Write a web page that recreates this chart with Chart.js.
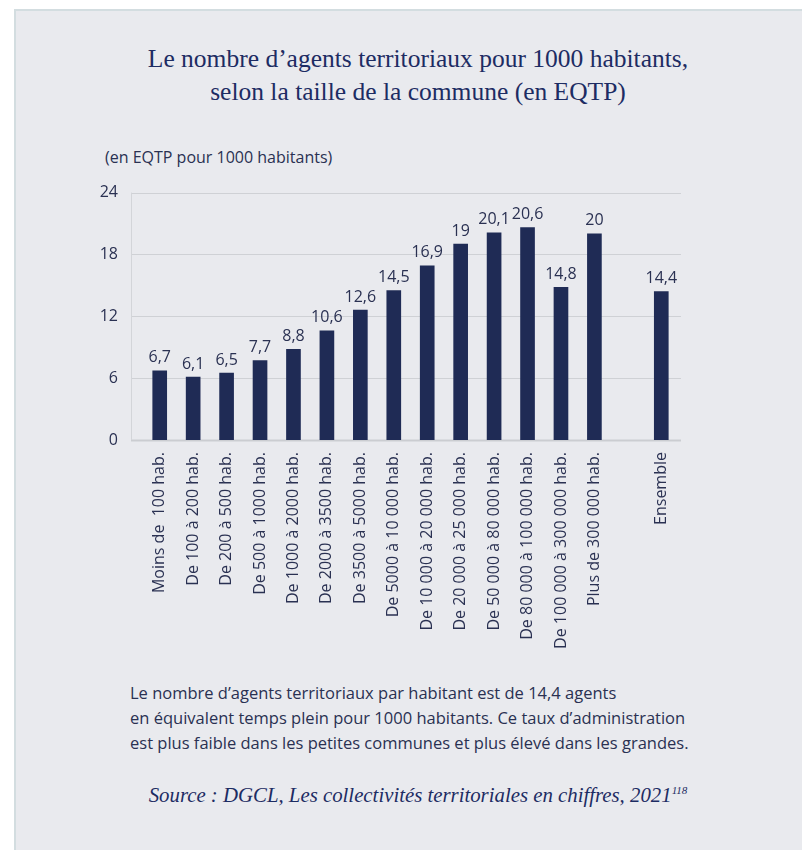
<!DOCTYPE html>
<html>
<head>
<meta charset="utf-8">
<script src="https://cdn.jsdelivr.net/npm/chart.js@4.4.1/dist/chart.umd.min.js"></script>
<style>
  body { margin: 0; background: #ffffff; width: 802px; height: 850px; overflow: hidden; }
  #panel {
    position: absolute; left: 14px; top: 9px; width: 820px; height: 860px;
    background: #e9eaee; border-left: 2px solid #d3dde0; border-top: 2px solid #d3dde0;
  }
  #title {
    position: absolute; left: 68px; top: 42px; width: 700px; text-align: center;
    font-family: "Liberation Serif", serif; font-size: 25.5px; line-height: 33px; color: #1d2c63;
  }
  #unit {
    position: absolute; left: 105px; top: 146px;
    font-family: "Open Sans", sans-serif; font-size: 16px; color: #2a3152;
  }
  #note {
    position: absolute; left: 130px; top: 680px;
    font-family: "Open Sans", sans-serif; font-size: 16.5px; line-height: 25px; color: #2a3152;
  }
  #source {
    position: absolute; left: 68px; top: 783px; width: 700px; text-align: center;
    font-family: "Liberation Serif", serif; font-style: italic; font-size: 20.8px; color: #1d2c63;
  }
  #source sup { font-size: 11px; }
  #wrap { position: absolute; left: 0; top: 158px; width: 802px; height: 512px; }
</style>
</head>
<body>
<div id="panel"></div>
<div id="title">Le nombre d’agents territoriaux pour 1000 habitants,<br>selon la taille de la commune (en EQTP)</div>
<div id="unit">(en EQTP pour 1000 habitants)</div>
<div id="wrap"><canvas id="myChart"></canvas></div>
<div id="note">Le nombre d’agents territoriaux par habitant est de 14,4 agents<br>en équivalent temps plein pour 1000 habitants. Ce taux d’administration<br>est plus faible dans les petites communes et plus élevé dans les grandes.</div>
<div id="source">Source : DGCL, Les collectivités territoriales en chiffres, 2021<sup>118</sup></div>
<script>
const categories = [
  "Moins de  100 hab.",
  "De 100 à 200 hab.",
  "De 200 à 500 hab.",
  "De 500 à 1000 hab.",
  "De 1000 à 2000 hab.",
  "De 2000 à 3500 hab.",
  "De 3500 à 5000 hab.",
  "De 5000 à 10 000 hab.",
  "De 10 000 à 20 000 hab.",
  "De 20 000 à 25 000 hab.",
  "De 50 000 à 80 000 hab.",
  "De 80 000 à 100 000 hab.",
  "De 100 000 à 300 000 hab.",
  "Plus de 300 000 hab.",
  "", // espace vide avant Ensemble
  "Ensemble",
];
const values = [6.7, 6.1, 6.5, 7.7, 8.8, 10.6, 12.6, 14.5, 16.9, 19, 20.1, 20.6, 14.8, 20, null, 14.4];
const yTicks = [0, 6, 12, 18, 24];

const textColor = "#2a3152";
const barColor = "#1f2b55";

// lignes de grille un peu plus larges que la zone des barres
const gridPlugin = {
  id: "gridLines",
  beforeDatasetsDraw(chart) {
    const { ctx, chartArea, scales } = chart;
    const left = chartArea.left - 12;
    const right = chartArea.right + 3;
    ctx.save();
    yTicks.forEach((t) => {
      const y = Math.round(scales.y.getPixelForValue(t)) + 0.5;
      ctx.beginPath();
      ctx.strokeStyle = t === 0 ? "#cbcdd1" : "#cfd1d5";
      ctx.lineWidth = t === 0 ? 2 : 1;
      ctx.moveTo(left, y);
      ctx.lineTo(right, y);
      ctx.stroke();
    });
    // axe vertical
    ctx.beginPath();
    ctx.strokeStyle = "#d3d5d9";
    ctx.lineWidth = 1;
    ctx.moveTo(left + 0.5, scales.y.getPixelForValue(24));
    ctx.lineTo(left + 0.5, scales.y.getPixelForValue(0));
    ctx.stroke();
    ctx.restore();
  },
};

// valeurs au-dessus des barres
const labelPlugin = {
  id: "barLabels",
  afterDatasetsDraw(chart) {
    const { ctx } = chart;
    const meta = chart.getDatasetMeta(0);
    ctx.save();
    ctx.font = "16px 'Open Sans'";
    ctx.fillStyle = textColor;
    ctx.textAlign = "center";
    ctx.textBaseline = "bottom";
    meta.data.forEach((bar, i) => {
      if (values[i] == null) return;
      ctx.fillText(String(values[i]).replace(".", ","), bar.x, bar.y - 5);
    });
    ctx.restore();
  },
};

const chart = new Chart(document.getElementById("myChart"), {
  type: "bar",
  data: {
    labels: categories,
    datasets: [
      {
        data: values,
        backgroundColor: barColor,
        barThickness: 14,
      },
    ],
  },
  options: {
    responsive: true,
    maintainAspectRatio: false,
    animation: false,
    layout: { padding: { top: 9, right: 124, left: 0, bottom: 0 } },
    scales: {
      x: {
        grid: { display: false, drawTicks: false },
        border: { display: false },
        ticks: {
          color: textColor,
          font: { family: "'Open Sans'", size: 16 },
          minRotation: 90,
          maxRotation: 90,
          autoSkip: false,
          padding: 12,
        },
        afterFit: (s) => { s.height = 230; },
      },
      y: {
        min: 0,
        max: 24,
        grid: { display: false, drawTicks: false },
        border: { display: false },
        afterBuildTicks: (s) => { s.ticks = yTicks.map((v) => ({ value: v })); },
        ticks: {
          color: textColor,
          font: { family: "'Open Sans'", size: 16 },
          padding: 25,
        },
        afterFit: (s) => { s.width = 143; },
      },
    },
    plugins: {
      legend: { display: false },
      tooltip: { enabled: false },
    },
  },
  plugins: [gridPlugin, labelPlugin],
});
</script>
</body>
</html>
